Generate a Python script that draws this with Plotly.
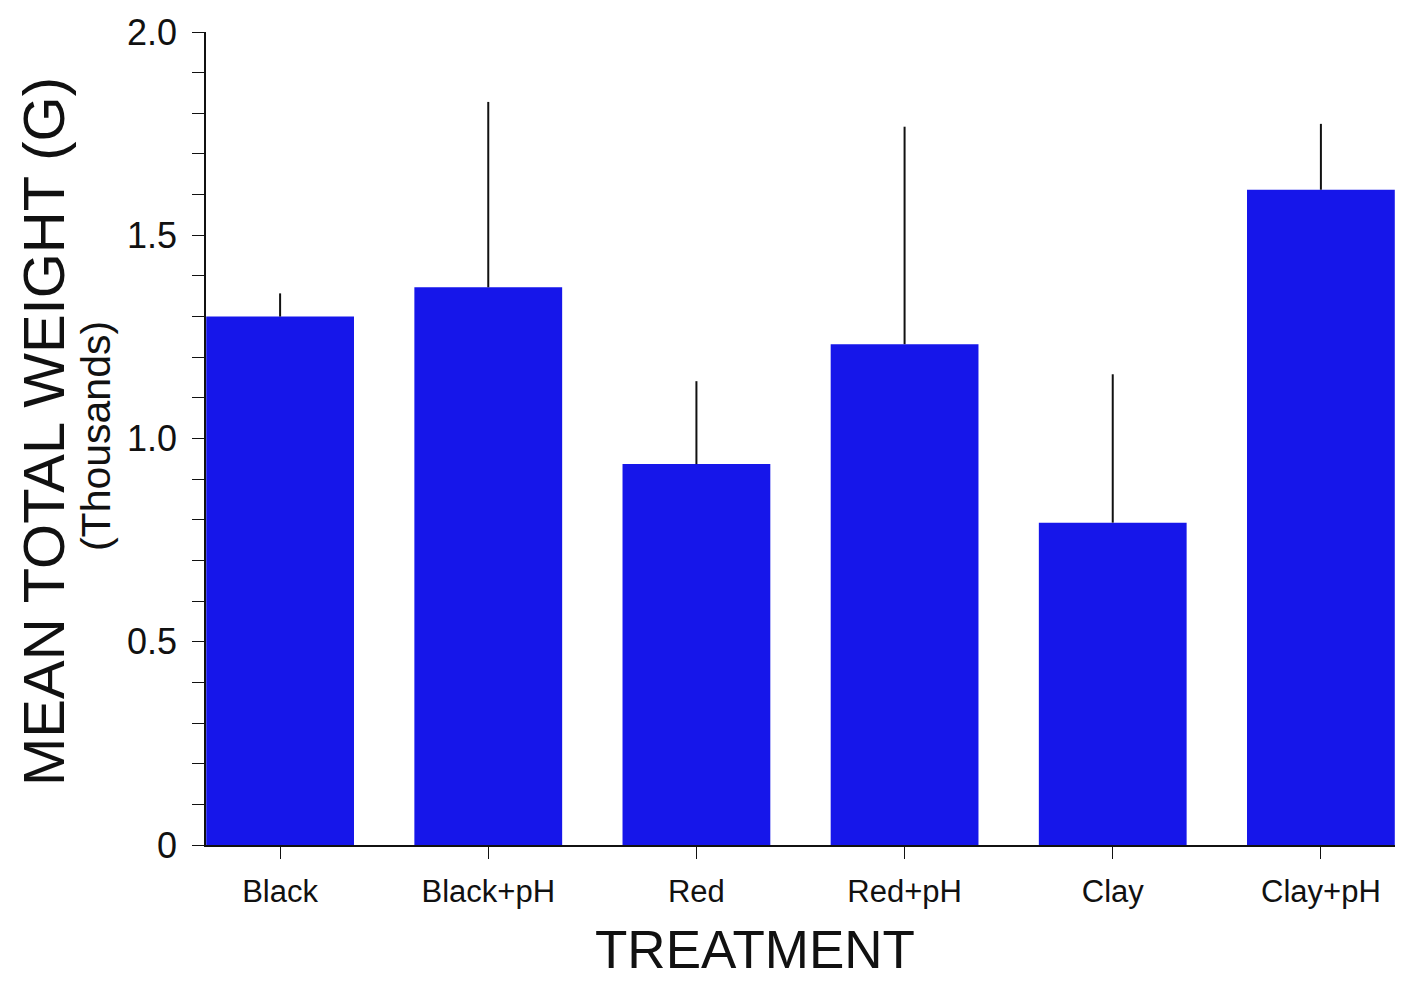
import plotly.graph_objects as go

categories = ["Black", "Black+pH", "Red", "Red+pH", "Clay", "Clay+pH"]
mean_weight = [1.30, 1.372, 0.937, 1.232, 0.793, 1.612]   # thousands of g
err_plus = [0.057, 0.456, 0.204, 0.535, 0.365, 0.162]
y_tick_vals = [0, 0.5, 1.0, 1.5, 2.0]
y_tick_text = ["0", "0.5", "1.0", "1.5", "2.0"]

FONT = "Liberation Sans, Arial, sans-serif"

fig = go.Figure()
fig.add_trace(go.Bar(
    x=list(range(len(categories))),
    y=mean_weight,
    width=0.71,
    marker=dict(color="#1616ea", line=dict(width=0)),
    error_y=dict(type="data", symmetric=False, array=err_plus,
                 arrayminus=[0] * len(err_plus), width=0,
                 thickness=2, color="#111111"),
))

fig.update_layout(
    width=1407, height=981,
    margin=dict(l=206, r=12, t=30, b=136),
    paper_bgcolor="white", plot_bgcolor="white",
    showlegend=False,
    font=dict(family=FONT, color="#111111"),
    xaxis=dict(
        range=[-0.356, 5.356],
        tickmode="array",
        tickvals=list(range(len(categories))),
        ticktext=categories,
        ticks="outside", ticklen=12, tickwidth=1.2, tickcolor="#111111",
        tickfont=dict(size=31, family=FONT, color="#111111"),
        showline=True, linecolor="#111111", linewidth=1.5,
        showgrid=False, zeroline=False,
        ticklabelstandoff=6,
    ),
    yaxis=dict(
        range=[0, 2.0],
        tickmode="array",
        tickvals=y_tick_vals,
        ticktext=y_tick_text,
        ticks="outside", ticklen=12, tickwidth=1.2, tickcolor="#111111",
        tickfont=dict(size=36, family=FONT, color="#111111"),
        minor=dict(dtick=0.1, ticks="outside", ticklen=12, tickwidth=1.2,
                   tickcolor="#111111", showgrid=False),
        showline=True, linecolor="#111111", linewidth=1.5,
        showgrid=False, zeroline=False,
        ticklabelstandoff=8,
    ),
)

fig.add_annotation(
    text="MEAN TOTAL WEIGHT (G)", textangle=-90,
    xref="paper", yref="paper", x=0, y=0.508,
    xanchor="center", yanchor="middle", xshift=-162,
    showarrow=False, font=dict(size=58, family=FONT, color="#111111"),
)
fig.add_annotation(
    text="(Thousands)", textangle=-90,
    xref="paper", yref="paper", x=0, y=0.503,
    xanchor="center", yanchor="middle", xshift=-110,
    showarrow=False, font=dict(size=41, family=FONT, color="#111111"),
)
fig.add_annotation(
    text="TREATMENT",
    xref="paper", yref="paper", x=(755 - 206) / 1189, y=0,
    xanchor="center", yanchor="middle", yshift=-104,
    showarrow=False, font=dict(size=53, family=FONT, color="#111111"),
)

fig.write_html("out.html", post_script="document.body.style.margin='0';",
               config={"displayModeBar": False})
